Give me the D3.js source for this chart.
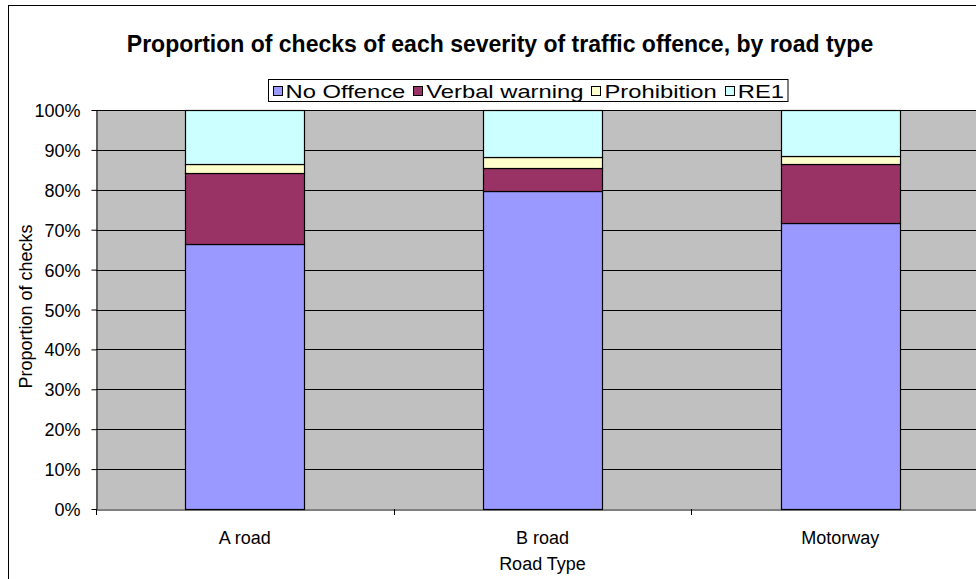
<!DOCTYPE html>
<html><head><meta charset="utf-8">
<script src="https://cdn.jsdelivr.net/npm/d3@7"></script>
<style>body{margin:0;background:#fff}svg{display:block;font-family:Arial,"Liberation Sans",sans-serif}</style>
</head><body><svg id="c" width="976" height="579"></svg>
<script>
const categories = ["A road", "B road", "Motorway"];
const seriesNames = ["No Offence", "Verbal warning", "Prohibition", "RE1"];
const noOffence = [66.5, 79.7, 71.7];
const verbalWarning = [17.6, 5.7, 14.8];
const prohibition = [2.4, 2.9, 1.9];
const re1 = [13.5, 11.7, 11.6];
const yTicks = [0,10,20,30,40,50,60,70,80,90,100];
const colors = ["#9999FF", "#993366", "#FFFFCC", "#CCFFFF"];

const FONT = "Arial, 'Liberation Sans', sans-serif";
const svg = d3.select("#c");
svg.append("rect").attr("x",8.5).attr("y",5.5).attr("width",1000).attr("height",600)
  .attr("fill","#fff").attr("stroke","#000");

const m = {l:96, t:110, r:989, b:509};
const x = d3.scaleBand().domain(categories).range([m.l, m.r]).paddingInner(0).paddingOuter(0);
const y = d3.scaleLinear().domain([0,100]).range([m.b, m.t]);

svg.append("rect").attr("x",m.l).attr("y",m.t).attr("width",m.r-m.l).attr("height",m.b-m.t).attr("fill","#C0C0C0");

svg.append("g").selectAll("line").data(yTicks.filter(d=>d>0)).join("line")
  .attr("x1",m.l).attr("x2",m.r).attr("y1",d=>Math.round(y(d))+0.5).attr("y2",d=>Math.round(y(d))+0.5)
  .attr("stroke","#000").attr("stroke-width",1);

const rows = categories.map((c,i)=>({cat:c, "No Offence":noOffence[i], "Verbal warning":verbalWarning[i], "Prohibition":prohibition[i], "RE1":re1[i]}));
const stacked = d3.stack().keys(seriesNames)(rows);
const bw = 119;
svg.append("g").selectAll("g").data(stacked).join("g").attr("fill",(d,i)=>colors[i])
  .selectAll("rect").data(d=>d).join("rect")
  .attr("x",d=>Math.round(x(d.data.cat)+x.bandwidth()/2-bw/2)+0.5)
  .attr("y",d=>Math.round(y(Math.min(d[1],100)))+0.5)
  .attr("width",bw)
  .attr("height",d=>Math.round(y(d[0]))-Math.round(y(Math.min(d[1],100))))
  .attr("stroke","#000").attr("stroke-width",1.2);

// y axis
const ya = svg.append("g").attr("transform",`translate(${m.l+0.5},0)`)
  .call(d3.axisLeft(y).tickValues(yTicks).tickFormat(d=>d+"%").tickSize(5).tickSizeOuter(0).tickPadding(11));
ya.attr("font-size",null).attr("font-family",null);
ya.select(".domain").attr("stroke","#000");
ya.selectAll(".tick text").style("font-size","18px").style("font-family",FONT).attr("fill","#000").attr("dy",null).attr("y",6.5);
ya.selectAll(".tick line").attr("stroke","#000");

// x axis
const xa = svg.append("g").attr("transform",`translate(0,${m.b+0.5})`)
  .call(d3.axisBottom(x).tickSize(0).tickSizeOuter(0));
xa.select(".domain").attr("stroke","#000");
xa.selectAll(".tick text").style("font-size","18px").style("font-family",FONT).attr("fill","#000").attr("dy",null).attr("y",34.5);
svg.append("g").selectAll("line").data(categories).join("line")
  .attr("x1",d=>Math.round(x(d))+0.5).attr("x2",d=>Math.round(x(d))+0.5)
  .attr("y1",m.b).attr("y2",m.b+6).attr("stroke","#000");

// axis titles
svg.append("text").attr("x",(m.l+m.r)/2).attr("y",570).attr("text-anchor","middle").style("font-size","18px").text("Road Type");
svg.append("text").attr("transform","translate(32,306.5) rotate(-90)").attr("text-anchor","middle").style("font-size","18px").text("Proportion of checks");

// title
svg.append("text").attr("x",500).attr("y",52).attr("text-anchor","middle").style("font-size","23px").attr("font-weight","bold").text("Proportion of checks of each severity of traffic offence, by road type");

// legend
const L = {x:268.5, y:79.5, w:519.5, h:22};
const lg = svg.append("g");
lg.append("rect").attr("x",L.x).attr("y",L.y).attr("width",L.w).attr("height",L.h).attr("fill","#fff").attr("stroke","#000");
const items = seriesNames.map((s,i)=>{
  const t = lg.append("text").style("font-size","19px").attr("y",L.y+L.h/2+7).text(s);
  return {t, w:t.node().getComputedTextLength(), i};
});
const sw = 10, sg = 3, pad = 4, ig = 8;
const avail = L.w - 2*pad - items.length*(sw+sg) - (items.length-1)*ig;
const k = avail / d3.sum(items, d=>d.w);
let lx = L.x + pad;
items.forEach(d=>{
  lg.append("rect").attr("x",Math.round(lx)+0.5).attr("y",Math.round(L.y+L.h/2-sw/2)+0.5).attr("width",sw-1).attr("height",sw-1).attr("fill",colors[d.i]).attr("stroke","#000");
  const tw = d.w*k;
  d.t.attr("x",lx+sw+sg).attr("textLength",tw).attr("lengthAdjust","spacingAndGlyphs");
  lx += sw+sg+tw+ig;
});
</script></body></html>
